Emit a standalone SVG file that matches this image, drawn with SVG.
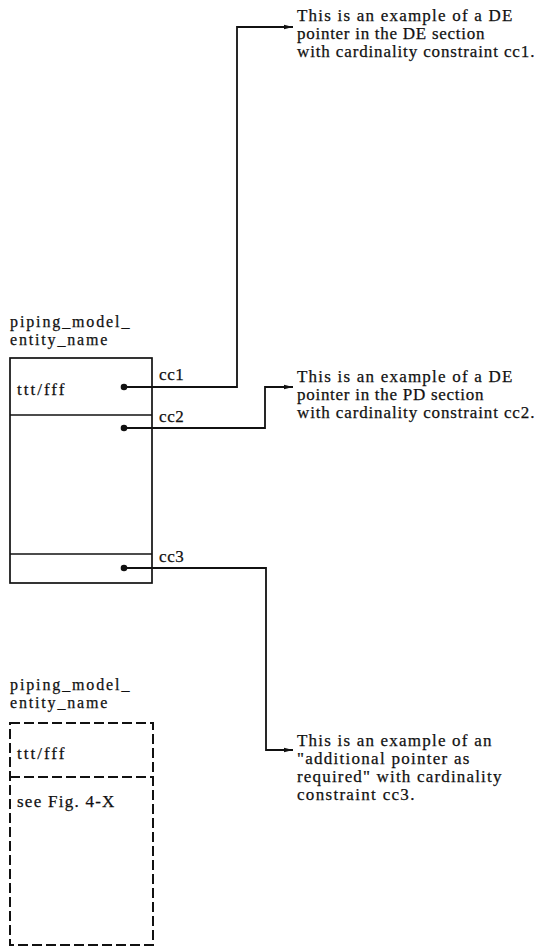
<svg xmlns="http://www.w3.org/2000/svg" width="544" height="948" viewBox="0 0 544 948">
<style>
text{font-family:"Liberation Serif","Times New Roman",serif;font-size:17px;fill:#111;stroke:#111;stroke-width:0.25;letter-spacing:0.6px}
.lbl{font-size:16px}
.box{fill:none;stroke:#111;stroke-width:1.7}
.dash{fill:none;stroke:#111;stroke-width:2;stroke-dasharray:10 4}
.conn{fill:none;stroke:#111;stroke-width:1.8}
</style>
<defs>
<marker id="arr" markerWidth="10" markerHeight="6" refX="9" refY="3" orient="auto" markerUnits="userSpaceOnUse">
<path d="M0,0.8 L9,3 L0,5.2 Z" fill="#111"/>
</marker>
</defs>
<rect width="544" height="948" fill="#fff"/>

<g id="entity1" font-family="Liberation Serif, serif">
<text class="lbl" x="10" y="327" textLength="120" lengthAdjust="spacing">piping_model_</text>
<text class="lbl" x="10" y="345" textLength="98" lengthAdjust="spacing">entity_name</text>
<rect class="box" x="10" y="358" width="142" height="225"/>
<line class="box" x1="10" y1="415" x2="152" y2="415"/>
<line class="box" x1="10" y1="554" x2="152" y2="554"/>
<text x="17" y="395" textLength="48" lengthAdjust="spacing">ttt/fff</text>
<text x="159" y="380">cc1</text>
<text x="159" y="422">cc2</text>
<text x="159" y="562">cc3</text>
</g>

<g id="entity2" font-family="Liberation Serif, serif">
<text class="lbl" x="10" y="690" textLength="120" lengthAdjust="spacing">piping_model_</text>
<text class="lbl" x="10" y="708" textLength="98" lengthAdjust="spacing">entity_name</text>
<rect class="dash" x="10" y="723" width="143" height="222"/>
<line class="dash" x1="10" y1="777" x2="153" y2="777"/>
<text x="17" y="759" textLength="48" lengthAdjust="spacing">ttt/fff</text>
<text x="17" y="807" textLength="98" lengthAdjust="spacing">see Fig. 4-X</text>
</g>

<g id="note1" font-family="Liberation Serif, serif">
<text x="297" y="21" textLength="216" lengthAdjust="spacing">This is an example of a DE</text>
<text x="297" y="39" textLength="188" lengthAdjust="spacing">pointer in the DE section</text>
<text x="297" y="57" textLength="238" lengthAdjust="spacing">with cardinality constraint cc1.</text>
</g>

<g id="note2" font-family="Liberation Serif, serif">
<text x="297" y="382" textLength="216" lengthAdjust="spacing">This is an example of a DE</text>
<text x="297" y="400" textLength="187" lengthAdjust="spacing">pointer in the PD section</text>
<text x="297" y="418" textLength="238" lengthAdjust="spacing">with cardinality constraint cc2.</text>
</g>

<g id="note3" font-family="Liberation Serif, serif">
<text x="297" y="746" textLength="195" lengthAdjust="spacing">This is an example of an</text>
<text x="297" y="764" textLength="173" lengthAdjust="spacing">"additional pointer as</text>
<text x="297" y="782" textLength="205" lengthAdjust="spacing">required" with cardinality</text>
<text x="297" y="800" textLength="118" lengthAdjust="spacing">constraint cc3.</text>
</g>

<g id="connectors">
<circle cx="124" cy="387" r="3.3" fill="#111"/>
<circle cx="124" cy="428" r="3.3" fill="#111"/>
<circle cx="124" cy="568" r="3.3" fill="#111"/>
<polyline class="conn" points="124,387 237,387 237,27 293,27" marker-end="url(#arr)"/>
<polyline class="conn" points="124,428 265,428 265,387 293,387" marker-end="url(#arr)"/>
<polyline class="conn" points="124,568 266,568 266,750 293,750" marker-end="url(#arr)"/>
</g>
</svg>
